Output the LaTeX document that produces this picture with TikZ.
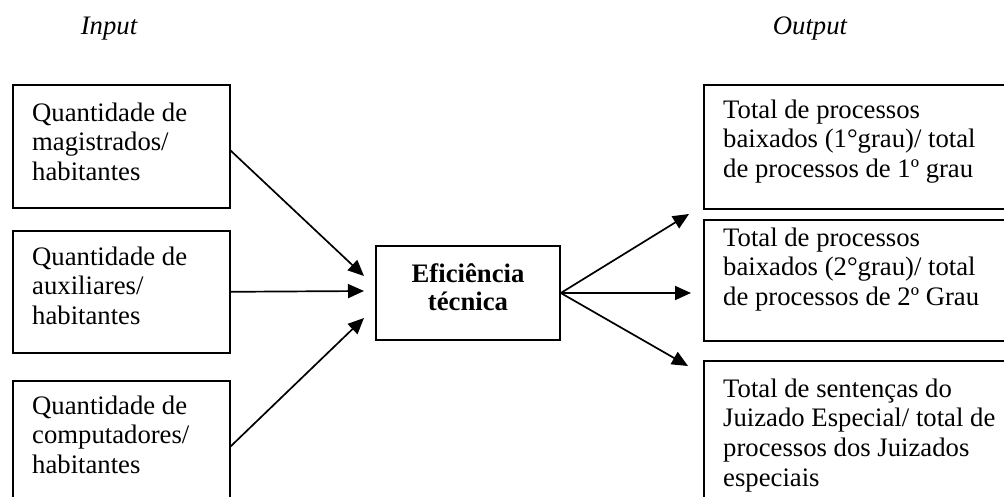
\documentclass[tikz,border=0pt]{standalone}
\usepackage{fontspec}
\setmainfont{Liberation Serif}
\usetikzlibrary{arrows.meta}
\newcommand{\fstrut}{\rule{0pt}{20pt}}
\begin{document}
\begin{tikzpicture}[x=1pt,y=-1pt,
  box/.style={draw, line width=1.6pt, rectangle, inner sep=0pt, anchor=north west},
  txt/.style={inner sep=0pt, anchor=north west, align=left, font=\fontsize{26.7}{29.7}\selectfont},
  lbl/.style={inner sep=0pt, anchor=base, font=\fontsize{26.7}{29.7}\selectfont\itshape},
  arr/.style={line width=1.7pt, -{Triangle[length=16pt,width=14pt]}}]
\useasboundingbox (0,0) rectangle (1004,497);
\begin{scope}
\clip (0,0) rectangle (1004,497);
% labels
\node[lbl] (inlbl) at (109,35) {Input};
\node[lbl] (outlbl) at (810,35) {Output};
% input boxes
\node[box, minimum width=217pt, minimum height=123pt] (in1) at (12,84) {};
\node[box, minimum width=217pt, minimum height=122pt] (in2) at (12,230) {};
\node[box, minimum width=217pt, minimum height=134pt] (in3) at (12,380) {};
\node[txt] (in1t) at (32,121-20) {\fstrut Quantidade de\\magistrados/\\habitantes};
\node[txt] (in2t) at (32,265-20) {\fstrut Quantidade de\\auxiliares/\\habitantes};
\node[txt] (in3t) at (32,414-20) {\fstrut Quantidade de\\computadores/\\habitantes};
% center
\node[box, minimum width=184pt, minimum height=94pt, anchor=center] (eff) at (468,293) {};
\node[txt, anchor=north, align=center, font=\fontsize{26.7}{28}\selectfont\bfseries] (efft) at (468,282-20) {\fstrut Eficiência\\técnica};
% output boxes
\node[box, minimum width=330pt, minimum height=124pt] (out1) at (703,84) {};
\node[box, minimum width=330pt, minimum height=121pt] (out2) at (703,219) {};
\node[box, minimum width=330pt, minimum height=160pt] (out3) at (703,360) {};
\node[txt] (out1t) at (723,118-20) {\fstrut Total de processos\\baixados (1°grau)/ total\\de processos de 1º grau};
\node[txt] (out2t) at (723,246-20) {\fstrut Total de processos\\baixados (2°grau)/ total\\de processos de 2º Grau};
\node[txt] (out3t) at (723,397-20) {\fstrut Total de sentenças do\\Juizado Especial/ total de\\processos dos Juizados\\especiais};
% arrow end points
\coordinate (t1) at (364,276);
\coordinate (t2) at (364,291);
\coordinate (t3) at (364,318);
\coordinate (s1) at (230,150);
\coordinate (s3) at (230,447);
\coordinate (u1) at (689,214);
\coordinate (u2) at (691,293);
\coordinate (u3) at (688,366);
\draw[arr] (s1) -- (t1);
\draw[arr] (in2.east) -- (t2);
\draw[arr] (s3) -- (t3);
\draw[arr] (eff.east) -- (u1);
\draw[arr] (eff.east) -- (u2);
\draw[arr] (eff.east) -- (u3);
\end{scope}
\end{tikzpicture}
\end{document}
